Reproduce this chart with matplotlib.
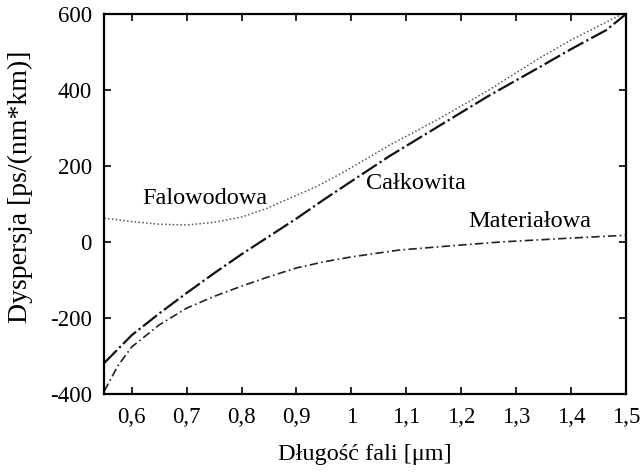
import matplotlib
matplotlib.use("Agg")
import matplotlib.pyplot as plt

# wavelength [um] and dispersion values [ps/(nm*km)]
lam_wave = [0.55, 0.6, 0.65, 0.7, 0.75, 0.8, 0.845, 0.887, 0.935, 0.978, 1.025, 1.069, 1.115,
            1.16, 1.25, 1.342, 1.4, 1.464, 1.5]
d_wave = [63, 54, 47, 45, 52, 66, 88, 115, 145, 178, 217, 255, 290, 325, 400, 484, 532, 579, 605]

lam_total = [0.55, 0.6, 0.65, 0.7, 0.75, 0.8, 0.85, 0.9, 0.95, 1.0, 1.069, 1.16, 1.25, 1.342,
             1.4, 1.464, 1.5]
d_total = [-318, -245, -188, -134, -82, -32, 15, 62, 112, 160, 226, 306, 385, 460, 508, 558, 600]

lam_mat = [0.55, 0.575, 0.6, 0.65, 0.7, 0.75, 0.8, 0.85, 0.9, 0.95, 1.0, 1.087, 1.18, 1.269,
           1.38, 1.5]
d_mat = [-392, -325, -276, -218, -174, -143, -116, -91, -68, -52, -39, -21, -10, 0, 9, 18]

xticks = [0.6, 0.7, 0.8, 0.9, 1.0, 1.1, 1.2, 1.3, 1.4, 1.5]
xtick_labels = ["0,6", "0,7", "0,8", "0,9", "1", "1,1", "1,2", "1,3", "1,4", "1,5"]
yticks = [-400, -200, 0, 200, 400, 600]

plt.rcParams['font.family'] = ['Liberation Serif', 'DejaVu Serif']
plt.rcParams['axes.unicode_minus'] = False

fig = plt.figure(figsize=(6.4, 4.73), dpi=100)
ax = fig.add_axes([0.163, 0.167, 0.815, 0.803])

ax.plot(lam_wave, d_wave, color='#555555', linestyle=(0, (1, 1.5)), linewidth=1.1)
ax.plot(lam_total, d_total, color='#111111', linestyle=(0, (8, 1.5, 1, 1.5)), linewidth=1.6)
ax.plot(lam_mat, d_mat, color='#222222', linestyle=(0, (5, 2, 1, 2)), linewidth=1.2)

ax.text(0.733, 116, "Falowodowa", fontsize=17.5, ha='center', va='center')
ax.text(1.118, 155, "Całkowita", fontsize=17.5, ha='center', va='center')
ax.text(1.324, 53, "Materiałowa", fontsize=17.5, ha='center', va='center')

ax.set_xlim(0.55, 1.5)
ax.set_ylim(-400, 600)
ax.set_xticks(xticks)
ax.set_xticklabels(xtick_labels)
ax.set_yticks(yticks)
ax.tick_params(direction='in', top=True, right=True, length=5, width=1.2,
               labelsize=16.5, pad=9)
for s in ax.spines.values():
    s.set_linewidth(1.6)

ax.set_xlabel("Długość fali [μm]", fontsize=17.5)
ax.xaxis.set_label_coords(0.5, -0.16)
ax.xaxis.label.set_va('center')
ax.set_ylabel("Dyspersja [ps/(nm*km)]", fontsize=20)
ax.yaxis.set_label_coords(-0.16, 0.545)
ax.yaxis.label.set_va('center')

fig.savefig("out.png", dpi=100)
